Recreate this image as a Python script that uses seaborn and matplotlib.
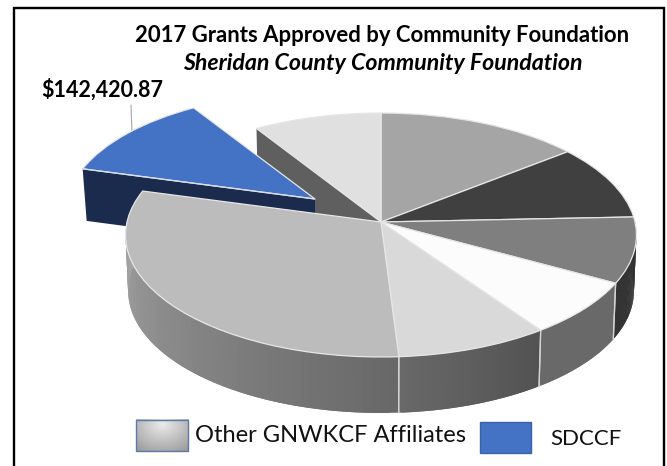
import numpy as np
import matplotlib
matplotlib.use("Agg")
import matplotlib.pyplot as plt
import seaborn as sns
from matplotlib.collections import PolyCollection
from matplotlib.patches import Rectangle
from matplotlib.transforms import Affine2D, Transform

# Data (clockwise from the top of the pie; only the SDCCF value is printed, others are estimated)
affiliates = ["A", "B", "C", "D", "E", "F", "SDCCF", "H"]
grants = [173300, 120900, 104800, 88000, 105500, 365800, 142420.87, 108500]
top_colors = ["#a5a5a5", "#404040", "#7f7f7f", "#fcfcfc", "#d9d9d9", "#bcbcbc", "#4472c4", "#e0e0e0"]
side_shades = [None, None, (0x33, 0x33), (0x69, 0x69), (0x52, 0x68), (0x68, 0xaa), None, None]
title_lines = ["2017 Grants Approved by Community Foundation", "Sheridan County Community Foundation"]
callout = "$142,420.87"
legend_labels = ["Other GNWKCF Affiliates", "SDCCF"]

CX, CY, DEPTH = 381.0, 222.0, 56.0
A, B, K = 120.6, 254.0, 0.1066


class Perspective(Transform):
    input_dims = output_dims = 2

    def transform_non_affine(self, v):
        v = np.asarray(v, float)
        d = 1 + K * v[:, 1]
        return np.column_stack((B * v[:, 0] / d, A * v[:, 1] / d))


def rim(theta_deg):
    t = np.radians(theta_deg)
    v = Perspective().transform_non_affine(np.column_stack((np.sin(t), np.cos(t))))
    return v[:, 0], v[:, 1]


def upper(theta_deg):
    x, y = rim(theta_deg)
    return CX + x, CY - y


def lower(theta_deg):
    x, y = rim(theta_deg)
    return CX + 0.99 * x, CY - y + DEPTH


sns.set_theme(style="white")
plt.rcParams["font.family"] = ["Lato", "DejaVu Sans"]
fig = plt.figure(figsize=(6.67, 4.66), dpi=100, facecolor="white")
ax = fig.add_axes([0, 0, 1, 1])

palette = sns.color_palette(top_colors)
wedges, _ = ax.pie(grants, colors=palette, startangle=90, counterclock=False, radius=1,
                   wedgeprops=dict(edgecolor="#e6e6e6", linewidth=0.9))
ax.set_aspect("auto")
ax.set_xlim(0, 667)
ax.set_ylim(466, 0)
ax.axis("off")

base = Perspective() + Affine2D().scale(1, -1).translate(CX, CY) + ax.transData
blue_scale, blue_dx, blue_dy = 0.975, -66.0, -23.0
blue_tf = Perspective() + Affine2D().scale(blue_scale, -blue_scale).translate(CX + blue_dx, CY + blue_dy) + ax.transData

edges = 360 * np.cumsum([0] + grants) / np.sum(grants)

for i, w in enumerate(wedges):
    w.set_clip_on(False)
    if affiliates[i] == "SDCCF":
        w.set_transform(blue_tf)
        w.set_zorder(4)
    else:
        w.set_transform(base)
        w.set_zorder(5)

# Outer side of the disc, shaded slice by slice; each quad overlaps the next so no seams show
for i, shade in enumerate(side_shades):
    if shade is None:
        continue
    th = np.linspace(edges[i], edges[i + 1], 61)
    ux, uy = upper(th)
    lx, ly = lower(th)
    polys = [[(ux[j], uy[j]), (ux[j + 2], uy[j + 2]), (lx[j + 2], ly[j + 2]), (lx[j], ly[j])]
             for j in range(len(th) - 2)]
    g = np.linspace(shade[0], shade[1], len(polys)) / 255
    cols = np.column_stack((g, g, g))
    ax.add_collection(PolyCollection(polys, facecolors=cols, edgecolors="none", linewidths=0, zorder=2))
    for e in (edges[i], edges[i + 1]):
        if 115 < e < 200:
            ux2, uy2 = upper(np.array([e]))
            lx2, ly2 = lower(np.array([e]))
            ax.plot([ux2[0], lx2[0]], [uy2[0], ly2[0]], color="#d5d5d5", lw=0.9, zorder=3)

# Inner wall exposed by pulling the SDCCF slice out
idx = affiliates.index("SDCCF")
ux, uy = upper(np.array([edges[idx + 1]]))
lx, ly = lower(np.array([edges[idx + 1]]))
ax.fill([ux[0], CX, CX, lx[0]], [uy[0], CY, CY + DEPTH, ly[0]], color="#5f5f5f", lw=0, zorder=1)

# Cut face of the pulled-out slice
rx, ry = rim(np.array([edges[idx]]))
px = CX + blue_dx + blue_scale * rx[0]
py = CY + blue_dy - blue_scale * ry[0]
tipx, tipy = CX + blue_dx, CY + blue_dy
d = DEPTH * 0.93
ax.fill([px, tipx, tipx, px + 4], [py, tipy, tipy + d, py + d], color="#1b2b4d", lw=0, zorder=3)
ax.plot([px, tipx], [py, tipy], color="#d8dde8", lw=0.9, zorder=4)

# Frame, open at the bottom
ax.plot([14, 14, 664, 664], [470, 7.5, 7.5, 470], color="black", lw=1.7, zorder=6, solid_joinstyle="miter")

# Titles and callout
ax.text(382.5, 35, title_lines[0], ha="center", va="center", fontsize=15.9, fontweight="bold", color="black", zorder=7)
ax.text(382.5, 64, title_lines[1], ha="center", va="center", fontsize=16.7, fontweight="bold",
        fontstyle="italic", color="black", zorder=7)
ax.text(41, 90, callout, ha="left", va="center", fontsize=15.5, fontweight="bold", color="black", zorder=7)
ax.plot([131, 132], [105, 133], color="#a6a6a6", lw=0.8, zorder=3)

# Legend
gy, gx = np.mgrid[0:1:40j, 0:1:60j]
grad = 0.92 - 0.30 * np.sqrt(((gx - 0.5) / 0.75) ** 2 + ((gy - 0.15) / 1.0) ** 2)
ax.imshow(np.clip(grad, 0, 1), cmap="gray", vmin=0, vmax=1, extent=(135.5, 188, 451, 419.5), aspect="auto", zorder=6)
ax.set_xlim(0, 667)
ax.set_ylim(466, 0)
ax.add_patch(Rectangle((135.5, 419.5), 52.5, 31.5, fc="none", ec="#5b7aa8", lw=1.0, zorder=7))
ax.add_patch(Rectangle((480, 422), 51, 31, fc="#4472c4", ec="#3a62a8", lw=1.0, zorder=7))
ax.text(195, 436, legend_labels[0], ha="left", va="center", fontsize=17, color="#111111", zorder=7)
ax.text(550, 439, legend_labels[1], ha="left", va="center", fontsize=16, color="#111111", zorder=7)

fig.savefig("out.png", dpi=100, facecolor="white")
